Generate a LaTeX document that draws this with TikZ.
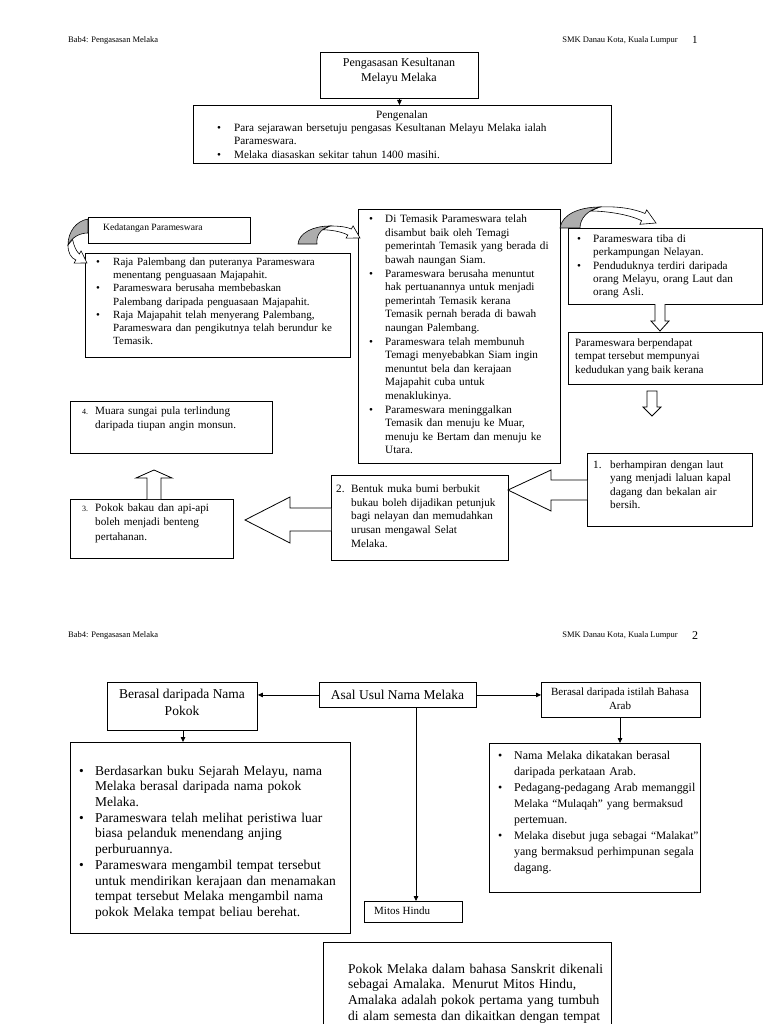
\documentclass[tikz,border=0pt]{standalone}
\usepackage{fontspec}
\setmainfont{Liberation Serif}
\usetikzlibrary{arrows.meta}
\newlength\itind
\newcommand\itm[1]{\noindent\hangindent=\itind\hangafter=1\strut\makebox[\itind][l]{\textbullet}#1\par}
\newcommand\nitm[2]{\noindent\hangindent=\itind\hangafter=1\strut\makebox[\itind][l]{#1}#2\par}
\newcommand\altf[1]{{\fontsize{11.4}{16}\selectfont #1}}
\tikzset{
  box/.style={draw, line width=0.9pt, fill=white, inner sep=0pt, anchor=north west},
  txt/.style={inner sep=0pt, align=left, anchor=north west, font=\fontsize{11.2}{13.5}\selectfont},
  btxt/.style={inner sep=0pt, align=left, anchor=north west, font=\fontsize{13.5}{15.7}\selectfont},
  hdr/.style={inner sep=0pt, anchor=base west, font=\fontsize{8.5}{10}\selectfont},
  blk/.style={draw, line width=0.8pt, fill=white, line join=miter},
  crv/.style={draw, line width=0.6pt, fill=white},
  crvg/.style={draw, line width=0.6pt, fill=black!32},
  conn/.style={line width=0.8pt, -{Triangle[length=5pt,width=4.5pt]}}
}
\begin{document}
\begin{tikzpicture}[x=1pt,y=-1pt]
\useasboundingbox (0,0) rectangle (768,1024);
\clip (0,0) rectangle (768,1024);
\fill[white] (0,0) rectangle (768,1024);

% ---------- page 1 header ----------
\node[hdr] (h1l) at (68,43) {Bab4: Pengasasan Melaka};
\node[hdr, anchor=base east] (h1r) at (678,43) {SMK Danau Kota, Kuala Lumpur};
\node[inner sep=0pt, anchor=base west, font=\fontsize{11}{13}\selectfont] (p1) at (692,44) {1};

% ---------- title ----------
\node[box, minimum width=158pt, minimum height=46pt] (title) at (320,52) {};
\node[inner sep=0pt, align=center, font=\fontsize{12}{14.5}\selectfont, anchor=north] (titlet) at (399,58)
  {Pengasasan Kesultanan\\Melayu Melaka};

% ---------- Pengenalan ----------
\node[box, minimum width=418pt, minimum height=58pt] (intro) at (193,105) {};
\draw[conn] (title.south) -- (title.south |- intro.north);
\node[txt, anchor=north] (introh) at (402,109) {\strut Pengenalan};
\node[txt, text width=385pt, font=\fontsize{11.2}{13.4}\selectfont] (introt) at (217,122) {\setlength\itind{17pt}%
\itm{Para sejarawan bersetuju pengasas Kesultanan Melayu Melaka ialah\newline Parameswara.}
\itm{Melaka diasaskan sekitar tahun 1400 masihi.}};

% ---------- Kedatangan Parameswara ----------
\node[box, minimum width=162pt, minimum height=26pt] (ked) at (88,217) {};
\node[inner sep=0pt, anchor=west, font=\fontsize{9.6}{12}\selectfont] (kedt) at (103,228) {Kedatangan Parameswara};

% left bullet box
\node[box, minimum width=265pt, minimum height=104pt] (lb) at (85,253) {};
\node[txt, text width=255pt, font=\fontsize{11}{13.2}\selectfont] (lbt) at (96,256) {\setlength\itind{17pt}%
\itm{Raja Palembang dan puteranya Parameswara\newline menentang penguasaan Majapahit.}
\itm{Parameswara berusaha membebaskan\newline Palembang daripada penguasaan Majapahit.}
\itm{Raja Majapahit telah menyerang Palembang,\newline Parameswara dan pengikutnya telah berundur ke\newline Temasik.}};

% curved arrow left (Kedatangan -> left box)
\draw[crv] (68,245) .. controls (68,253) and (71,258) .. (75.85,260) -- (74.1,263.1) -- (87,263) -- (81.1,250.9) -- (79.35,254) .. controls (76,251) and (74,246) .. (72.6,239.5) -- cycle;
\draw[crvg] (88,219) .. controls (76,221) and (68,232) .. (68,245) .. controls (72,237) and (80,233) .. (88,233) -- cycle;

% ---------- middle box ----------
\node[box, minimum width=202pt, minimum height=254pt] (mid) at (358,209) {};
\node[txt, text width=192pt, font=\fontsize{11.2}{13.6}\selectfont] (midt) at (369,213) {\setlength\itind{16pt}%
\itm{Di Temasik Parameswara telah\newline disambut baik oleh Temagi\newline pemerintah Temasik yang berada di\newline bawah naungan Siam.}
\itm{Parameswara berusaha menuntut\newline hak pertuanannya untuk menjadi\newline pemerintah Temasik kerana\newline Temasik pernah berada di bawah\newline naungan Palembang.}
\itm{Parameswara telah membunuh\newline Temagi menyebabkan Siam ingin\newline menuntut bela dan kerajaan\newline Majapahit cuba untuk\newline menaklukinya.}
\itm{Parameswara meninggalkan\newline Temasik dan menuju ke Muar,\newline menuju ke Bertam dan menuju ke\newline Utara.}};

% curved arrow middle (left box -> middle box)
\draw[crv] (330,226) .. controls (340,226) and (347,227) .. (351.35,229) -- (353.1,225.9) -- (360,238) -- (346.1,238.1) -- (347.85,235) .. controls (340,231) and (330,230) .. (322.6,229.7) -- cycle;
\draw[crvg] (298,244) .. controls (299,233) and (313,226) .. (330,226) .. controls (320,229) and (316,236) .. (317,244) -- cycle;

% ---------- right boxes ----------
\node[box, minimum width=194pt, minimum height=76pt] (r1) at (568,228) {};
\node[txt, text width=185pt, font=\fontsize{11.2}{13.3}\selectfont] (r1t) at (577,233) {\setlength\itind{16pt}%
\itm{Parameswara tiba di\newline perkampungan Nelayan.}
\itm{Penduduknya terdiri daripada\newline orang Melayu, orang Laut dan\newline orang Asli.}};

% curved arrow top right (middle box -> r1)
\draw[crv] (600,207) .. controls (618,206) and (635,209) .. (645,213.5) -- (646.7,209.9) -- (656,223) -- (639.9,224.3) -- (641.6,220.7) .. controls (628,214) and (605,211) .. (590.4,211) -- cycle;
\draw[crvg] (560,228) .. controls (562,214) and (580,207) .. (600,207) .. controls (588,210) and (580,218) .. (580,228) -- cycle;

\node[box, minimum width=194pt, minimum height=52pt] (r2) at (568,332) {};
\node[txt, font=\fontsize{11.2}{13.3}\selectfont] (r2t) at (575,337) {\strut Parameswara berpendapat\\tempat tersebut mempunyai\\kedudukan yang baik kerana};

% hollow down arrows
\draw[blk] (655,304) -- (655,321) -- (651,321) -- (660,331) -- (669,321) -- (665,321) -- (665,304);
\draw[blk] (647,391) -- (647,407) -- (643,407) -- (652,416) -- (661,407) -- (657,407) -- (657,391) -- cycle;

% ---------- numbered boxes ----------
\node[box, minimum width=165pt, minimum height=73pt] (n1) at (587,453) {};
\node[txt, text width=160pt, font=\fontsize{11.2}{13.3}\selectfont] (n1t) at (593,459) {\setlength\itind{17pt}%
\nitm{1.}{berhampiran dengan laut\newline yang menjadi laluan kapal\newline dagang dan bekalan air\newline bersih.}};

\node[box, minimum width=177pt, minimum height=85pt] (n2) at (331,475) {};
\node[txt, text width=172pt, font=\fontsize{11.2}{13.6}\selectfont] (n2t) at (336,483) {\setlength\itind{15pt}%
\nitm{2.}{Bentuk muka bumi berbukit\newline bukau boleh dijadikan petunjuk\newline bagi nelayan dan memudahkan\newline urusan mengawal Selat\newline Melaka.}};

\node[box, minimum width=163pt, minimum height=59pt] (n3) at (70,499) {};
\node[txt, text width=150pt, font=\fontsize{11.2}{14.5}\selectfont] (n3t) at (82,501) {\setlength\itind{13pt}%
\nitm{\fontsize{8}{10}\selectfont 3.}{Pokok bakau dan api-api\newline boleh menjadi benteng\newline pertahanan.}};

\node[box, minimum width=202pt, minimum height=52pt] (n4) at (70,401) {};
\node[txt, text width=190pt] (n4t) at (82,405) {\setlength\itind{13pt}%
\nitm{\fontsize{8}{10}\selectfont 4.}{Muara sungai pula terlindung\newline daripada tiupan angin monsun.}};

% big block arrows
\draw[blk] (n1.west |- 0,480) -- (551,480) -- (551,470) -- (508,490) -- (551,511) -- (551,500) -- (n1.west |- 0,500);
\draw[blk] (n2.west |- 0,508) -- (290,508) -- (290,497) -- (245,520) -- (290,543) -- (290,531) -- (n2.west |- 0,531);
\draw[blk] (147,499) -- (147,478) -- (136,478) -- (154,470) -- (172,478) -- (161,478) -- (161,499);

% ---------- page 2 header ----------
\node[hdr] (h2l) at (68,637) {Bab4: Pengasasan Melaka};
\node[hdr, anchor=base east] (h2r) at (678,637) {SMK Danau Kota, Kuala Lumpur};
\node[inner sep=0pt, anchor=base west, font=\fontsize{12}{14}\selectfont] (p2) at (692,639) {2};

% ---------- page 2 boxes ----------
\node[box, minimum width=150pt, minimum height=48pt] (pokok) at (107,682) {};
\node[inner sep=0pt, align=center, anchor=north, font=\fontsize{13.5}{16.5}\selectfont] (pokokt) at (182,689) {Berasal daripada Nama\\Pokok};

\node[box, minimum width=157pt, minimum height=25pt] (asal) at (319,682) {};
\node[inner sep=0pt, anchor=center, font=\fontsize{13.5}{16}\selectfont] (asalt) at (397.5,695) {Asal Usul Nama Melaka};

\node[box, minimum width=159pt, minimum height=35pt] (arab) at (541,682) {};
\node[inner sep=0pt, align=center, anchor=north, font=\fontsize{11}{13.4}\selectfont] (arabt) at (620,688) {Berasal daripada istilah Bahasa\\Arab};

\node[box, minimum width=280pt, minimum height=191pt] (lbox) at (70,742) {};
\node[btxt, text width=270pt] (lboxt) at (79,764) {\setlength\itind{16pt}%
\itm{Berdasarkan buku Sejarah Melayu, nama\newline Melaka berasal daripada nama pokok\newline Melaka.}
\itm{Parameswara telah melihat peristiwa luar\newline biasa pelanduk menendang anjing\newline perburuannya.}
\itm{Parameswara mengambil tempat tersebut\newline untuk mendirikan kerajaan dan menamakan\newline tempat tersebut Melaka mengambil nama\newline pokok Melaka tempat beliau berehat.}};

\node[box, minimum width=211pt, minimum height=149pt] (rbox) at (489,743) {};
\node[btxt, text width=230pt, font=\fontsize{11.9}{16}\selectfont] (rboxt) at (498,748) {\setlength\itind{16pt}%
\itm{Nama Melaka dikatakan berasal\newline daripada perkataan Arab.}
\itm{Pedagang-pedagang Arab memanggil\newline \altf{Melaka ``Mulaqah'' yang bermaksud}\newline pertemuan.}
\itm{\altf{Melaka disebut juga sebagai ``Malakat''}\newline yang bermaksud perhimpunan segala\newline dagang.}};

\node[box, minimum width=98pt, minimum height=21pt] (mitos) at (364,901) {};
\node[inner sep=0pt, anchor=west, font=\fontsize{11}{13}\selectfont] (mitost) at (374,911) {Mitos Hindu};

\node[box, minimum width=288pt, minimum height=95pt] (hindu) at (323,942) {};
\node[btxt, text width=280pt] (hindut) at (348,962) {\strut Pokok Melaka dalam bahasa Sanskrit dikenali\\sebagai Amalaka. Menurut Mitos Hindu,\\Amalaka adalah pokok pertama yang tumbuh\\di alam semesta dan dikaitkan dengan tempat};

% connectors page 2
\draw[conn] (asal.west) -- (pokok.east |- asal.west);
\draw[conn] (asal.east) -- (arab.west |- asal.east);
\draw[conn] (pokok.south -| 183,0) -- (lbox.north -| 183,0);
\draw[conn] (asal.south -| 416,0) -- (mitos.north -| 416,0);
\draw[conn] (arab.south -| 620,0) -- (rbox.north -| 620,0);
\end{tikzpicture}
\end{document}
